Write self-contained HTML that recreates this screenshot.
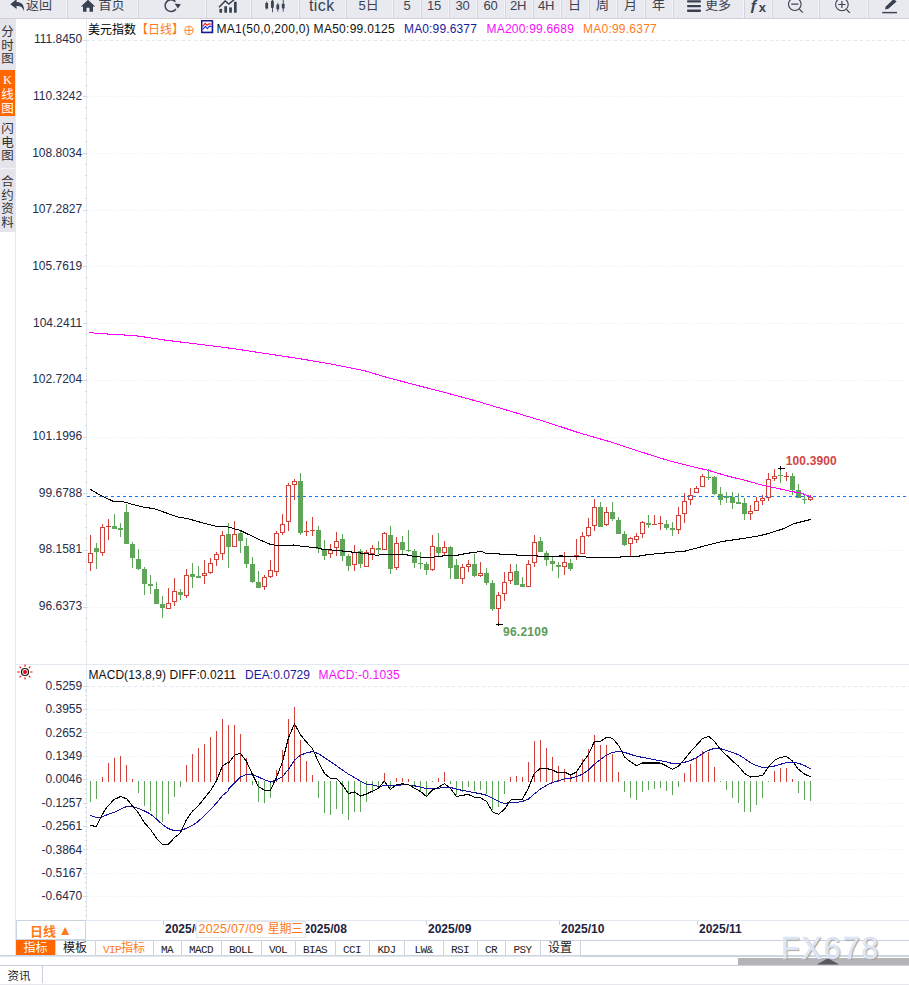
<!DOCTYPE html>
<html lang="zh"><head><meta charset="utf-8"><title>美元指数</title><style>
*{margin:0;padding:0;box-sizing:border-box}
html,body{width:909px;height:985px;overflow:hidden;background:#fff}
body{position:relative;font-family:"Liberation Sans","Noto Sans CJK SC",sans-serif;font-size:12px;color:#222}
.abs{position:absolute}
#tb{position:absolute;left:0;top:0;width:909px;height:19px;background:#e9e9f0;border-bottom:1px solid #d0d0d9;overflow:hidden}
#tb .sep{position:absolute;top:0;width:2px;height:19px;border-left:1px solid #f4f4f9;border-right:1px solid #d4d4dc}
#tb .t{position:absolute;top:-5px;height:20px;line-height:20px;font-size:13px;color:#3a4250;white-space:nowrap}
#tb svg{position:absolute;top:0}
#sb{position:absolute;left:0;top:19px;width:15px;height:213px;background:#e4e4ea}
#sb .v{position:absolute;left:0;width:15px;font-size:12px;line-height:14px;text-align:center;color:#333;font-family:"Liberation Sans","Noto Sans CJK SC",sans-serif}
#sb .on{background:#ff6600;color:#fff}
.yl{position:absolute;left:10px;width:72.2px;text-align:right;font-size:12px;line-height:14px;height:14px;color:#262c4a;white-space:nowrap}
.hdr{position:absolute;white-space:nowrap;font-size:12px;line-height:14px;height:14px}
.dl{position:absolute;top:922px;font-weight:bold;font-size:12px;line-height:14px;color:#1d2340;white-space:nowrap}
.tab{position:absolute;top:940px;height:15px;line-height:16.5px;font-size:12px;text-align:center;border-right:1px solid #ccd6e0;white-space:nowrap;color:#222}
.tab.m span{display:inline-block;font-family:"Liberation Mono",monospace;font-size:11px;letter-spacing:-0.6px;transform:scaleY(1.0);position:relative;top:0.5px}
</style></head><body>
<div id="tb">
<div class="sep" style="left:66px"></div>
<div class="sep" style="left:137px"></div>
<div class="sep" style="left:205px"></div>
<div class="sep" style="left:250px"></div>
<div class="sep" style="left:298px"></div>
<div class="sep" style="left:345px"></div>
<div class="sep" style="left:392px"></div>
<div class="sep" style="left:420px"></div>
<div class="sep" style="left:448px"></div>
<div class="sep" style="left:476px"></div>
<div class="sep" style="left:504px"></div>
<div class="sep" style="left:532px"></div>
<div class="sep" style="left:560px"></div>
<div class="sep" style="left:588px"></div>
<div class="sep" style="left:616px"></div>
<div class="sep" style="left:644px"></div>
<div class="sep" style="left:672px"></div>
<div class="sep" style="left:743px"></div>
<div class="sep" style="left:771px"></div>
<div class="sep" style="left:818px"></div>
<div class="sep" style="left:867px"></div>
<svg style="left:9px;top:-1px" width="17" height="14" viewBox="0 0 17 14"><path d="M1.3 5.3 L7.6 0 V3 C12 3 15.5 5.5 15 12 C13.8 8.3 11.5 7 7.6 7 V10 Z" fill="#3a4250"/></svg>
<div class="t" style="left:26px;">返回</div>
<svg style="left:80px;top:-1px" width="16" height="16" viewBox="0 0 16 16"><path d="M8 0.8 L0.8 7.4 H3 V12.8 H6.5 V8.8 H9.5 V12.8 H13 V7.4 H15.2 Z" fill="#3a4250"/></svg>
<div class="t" style="left:98.5px;">首页</div>
<svg style="left:160px" width="24" height="16" viewBox="160 0 24 16"><path d="M175.4 1.7 A5.9 5.9 0 1 0 175.9 9.0" fill="none" stroke="#3a4250" stroke-width="1.5"/><path d="M174.6 3.4 L180.9 4.2 L177.9 8.4 Z" fill="#3a4250"/></svg>
<svg style="left:216px" width="24" height="16" viewBox="216 0 24 16"><path d="M219 7.2 L225.2 0.9 L228.8 4.1 L235.5 -1.5" fill="none" stroke="#3a4250" stroke-width="1.5"/><g fill="#3a4250"><rect x="219.4" y="8.9" width="2.7" height="3.8"/><rect x="224.3" y="6.2" width="2.7" height="6.5"/><rect x="229.2" y="7.4" width="2.7" height="5.3"/><rect x="234" y="1.8" width="2.7" height="10.9"/></g></svg>
<svg style="left:262px" width="26" height="16" viewBox="262 0 26 16"><g fill="#3a4250"><rect x="265.3" y="3" width="2.8" height="5.5"/><rect x="266.3" y="1.5" width="0.9" height="8"/><rect x="271" y="0.8" width="2.8" height="7"/><rect x="272" y="0" width="0.9" height="12.3"/><rect x="276.4" y="4.6" width="2.8" height="4.6"/><rect x="277.4" y="3" width="0.9" height="8.6"/><rect x="281.8" y="3.8" width="2.8" height="4.6"/><rect x="282.8" y="0" width="0.9" height="11.6"/></g></svg>
<div class="t" style="left:309px;font-size:16px;top:-4.5px;letter-spacing:0.4px">tick</div>
<div class="t" style="left:358.5px;"><span style="position:relative;top:1px">5</span>日</div>
<div class="t" style="left:403.5px;top:-4px;letter-spacing:-0.3px">5</div>
<div class="t" style="left:427px;top:-4px;letter-spacing:-0.3px">15</div>
<div class="t" style="left:455.5px;top:-4px;letter-spacing:-0.3px">30</div>
<div class="t" style="left:483.5px;top:-4px;letter-spacing:-0.3px">60</div>
<div class="t" style="left:510px;top:-4px;letter-spacing:-0.3px">2H</div>
<div class="t" style="left:538px;top:-4px;letter-spacing:-0.3px">4H</div>
<div class="t" style="left:568px;">日</div>
<div class="t" style="left:596px;">周</div>
<div class="t" style="left:624px;">月</div>
<div class="t" style="left:652px;">年</div>
<svg style="left:686px" width="16" height="16" viewBox="0 0 16 16"><g fill="#3a4250"><rect x="1" y="0.3" width="14" height="2.3" rx="1"/><rect x="1" y="4.9" width="14" height="2.3" rx="1"/><rect x="1" y="9.6" width="14" height="2.3" rx="1"/></g></svg>
<div class="t" style="left:705px;">更多</div>
<div class="t" style="left:749.5px;top:-5px"><b style="font-size:15.5px;position:relative;top:0px">ƒ</b><b style="font-size:13px;position:relative;top:2px;left:0.5px">x</b></div>
<svg style="left:784px" width="24" height="18" viewBox="784 0 24 18"><circle cx="794.8" cy="4.2" r="6.3" fill="none" stroke="#3a4250" stroke-width="1.1"/><path d="M791.2 4.2 H798.4 M799.4 9.2 L802.8 12.6" stroke="#3a4250" stroke-width="1.2" fill="none"/></svg>
<svg style="left:831px" width="24" height="18" viewBox="831 0 24 18"><circle cx="841.9" cy="4.5" r="6.3" fill="none" stroke="#3a4250" stroke-width="1.1"/><path d="M838.3 4.5 H845.5 M841.9 0.9 V8.1 M846.5 9.5 L849.9 12.9" stroke="#3a4250" stroke-width="1.2" fill="none"/></svg>
<svg style="left:878px" width="24" height="18" viewBox="878 0 24 18"><path d="M885 9.6 L885.8 6.6 L893.6 -1 L896.6 1.6 L888.4 8.8 Z" fill="#3a4250"/><rect x="882.2" y="11.9" width="14.8" height="1.4" fill="#3a4250"/></svg>
</div>
<div id="sb">
<div class="v" style="top:7px;height:45px;line-height:13.7px;font-size:12.5px">分<br>时<br>图</div>
<div class="v on" style="top:51px;height:46px;padding-top:5.5px;line-height:13.6px;font-size:12.5px;font-family:'Liberation Serif','Noto Sans CJK SC',serif"><span style="position:relative;top:-1.5px">K</span><br>线<br>图</div>
<div class="v" style="top:104px;height:45px;line-height:13.7px;font-size:12.5px">闪<br>电<br>图</div>
<div class="abs" style="left:0;top:149px;width:15px;height:1px;background:#f4f4f8"></div>
<div class="v" style="top:157px;height:56px;line-height:13.7px;font-size:12.5px">合<br>约<br>资<br>料</div>
</div>
<div class="yl" style="top:32px">111.8450</div>
<div class="yl" style="top:89px">110.3242</div>
<div class="yl" style="top:146px">108.8034</div>
<div class="yl" style="top:202px">107.2827</div>
<div class="yl" style="top:259px">105.7619</div>
<div class="yl" style="top:316px">104.2411</div>
<div class="yl" style="top:372px">102.7204</div>
<div class="yl" style="top:429px">101.1996</div>
<div class="yl" style="top:486px">99.6788</div>
<div class="yl" style="top:542px">98.1581</div>
<div class="yl" style="top:599px">96.6373</div>
<div class="yl" style="top:679px">0.5259</div>
<div class="yl" style="top:702px">0.3955</div>
<div class="yl" style="top:726px">0.2652</div>
<div class="yl" style="top:749px">0.1349</div>
<div class="yl" style="top:772px">0.0046</div>
<div class="yl" style="top:796px">-0.1257</div>
<div class="yl" style="top:819px">-0.2561</div>
<div class="yl" style="top:843px">-0.3864</div>
<div class="yl" style="top:866px">-0.5167</div>
<div class="yl" style="top:889px">-0.6470</div>
<svg class="abs" style="left:0;top:0" width="909" height="985" viewBox="0 0 909 985">
<g shape-rendering="crispEdges" stroke="#e3e9f0" stroke-width="1" fill="none">
<path d="M15.5 19 V956"/>
<path d="M86.5 19 V920"/>
<path d="M16 664.5 H909"/>
<path d="M16 920.5 H909"/>
</g>
<g shape-rendering="crispEdges" stroke="#e4ebf0" stroke-width="1" stroke-dasharray="1 2" fill="none">
<path d="M87 96.5 H909"/>
<path d="M87 153.5 H909"/>
<path d="M87 210.5 H909"/>
<path d="M87 266.5 H909"/>
<path d="M87 323.5 H909"/>
<path d="M87 380.5 H909"/>
<path d="M87 437.5 H909"/>
<path d="M87 493.5 H909"/>
<path d="M87 550.5 H909"/>
<path d="M87 607.5 H909"/>
<path d="M87 709.5 H909"/>
<path d="M87 732.5 H909"/>
<path d="M87 756.5 H909"/>
<path d="M87 779.5 H909"/>
<path d="M87 803.5 H909"/>
<path d="M87 826.5 H909"/>
<path d="M87 849.5 H909"/>
<path d="M87 873.5 H909"/>
<path d="M87 896.5 H909"/>
</g>
<g shape-rendering="crispEdges" stroke="#dfe7ee" stroke-width="1" stroke-dasharray="3 3" fill="none">
<path d="M86 40.5 H909"/>
<path d="M86 686.5 H909"/>
</g>
<g shape-rendering="crispEdges" stroke="#d3dbe5" stroke-width="1" fill="none">
<path d="M83 40.5 H87"/>
<path d="M85 51.5 H87"/>
<path d="M85 62.5 H87"/>
<path d="M85 74.5 H87"/>
<path d="M85 85.5 H87"/>
<path d="M83 96.5 H87"/>
<path d="M85 107.5 H87"/>
<path d="M85 118.5 H87"/>
<path d="M85 130.5 H87"/>
<path d="M85 141.5 H87"/>
<path d="M83 153.5 H87"/>
<path d="M85 164.5 H87"/>
<path d="M85 175.5 H87"/>
<path d="M85 187.5 H87"/>
<path d="M85 198.5 H87"/>
<path d="M83 210.5 H87"/>
<path d="M85 221.5 H87"/>
<path d="M85 232.5 H87"/>
<path d="M85 244.5 H87"/>
<path d="M85 255.5 H87"/>
<path d="M83 266.5 H87"/>
<path d="M85 277.5 H87"/>
<path d="M85 288.5 H87"/>
<path d="M85 300.5 H87"/>
<path d="M85 311.5 H87"/>
<path d="M83 323.5 H87"/>
<path d="M85 334.5 H87"/>
<path d="M85 345.5 H87"/>
<path d="M85 357.5 H87"/>
<path d="M85 368.5 H87"/>
<path d="M83 380.5 H87"/>
<path d="M85 391.5 H87"/>
<path d="M85 402.5 H87"/>
<path d="M85 414.5 H87"/>
<path d="M85 425.5 H87"/>
<path d="M83 437.5 H87"/>
<path d="M85 448.5 H87"/>
<path d="M85 459.5 H87"/>
<path d="M85 471.5 H87"/>
<path d="M85 482.5 H87"/>
<path d="M83 493.5 H87"/>
<path d="M85 504.5 H87"/>
<path d="M85 515.5 H87"/>
<path d="M85 527.5 H87"/>
<path d="M85 538.5 H87"/>
<path d="M83 550.5 H87"/>
<path d="M85 561.5 H87"/>
<path d="M85 572.5 H87"/>
<path d="M85 584.5 H87"/>
<path d="M85 595.5 H87"/>
<path d="M83 607.5 H87"/>
<path d="M85 618.5 H87"/>
<path d="M85 629.5 H87"/>
<path d="M85 641.5 H87"/>
<path d="M83 686.5 H87"/>
<path d="M85 690.5 H87"/>
<path d="M85 695.5 H87"/>
<path d="M85 700.5 H87"/>
<path d="M85 704.5 H87"/>
<path d="M83 709.5 H87"/>
<path d="M85 714.5 H87"/>
<path d="M85 718.5 H87"/>
<path d="M85 723.5 H87"/>
<path d="M85 728.5 H87"/>
<path d="M83 732.5 H87"/>
<path d="M85 737.5 H87"/>
<path d="M85 742.5 H87"/>
<path d="M85 747.5 H87"/>
<path d="M85 751.5 H87"/>
<path d="M83 756.5 H87"/>
<path d="M85 761.5 H87"/>
<path d="M85 765.5 H87"/>
<path d="M85 770.5 H87"/>
<path d="M85 775.5 H87"/>
<path d="M83 779.5 H87"/>
<path d="M85 784.5 H87"/>
<path d="M85 789.5 H87"/>
<path d="M85 793.5 H87"/>
<path d="M85 798.5 H87"/>
<path d="M83 803.5 H87"/>
<path d="M85 807.5 H87"/>
<path d="M85 812.5 H87"/>
<path d="M85 817.5 H87"/>
<path d="M85 821.5 H87"/>
<path d="M83 826.5 H87"/>
<path d="M85 831.5 H87"/>
<path d="M85 835.5 H87"/>
<path d="M85 840.5 H87"/>
<path d="M85 845.5 H87"/>
<path d="M83 849.5 H87"/>
<path d="M85 854.5 H87"/>
<path d="M85 859.5 H87"/>
<path d="M85 863.5 H87"/>
<path d="M85 868.5 H87"/>
<path d="M83 873.5 H87"/>
<path d="M85 877.5 H87"/>
<path d="M85 882.5 H87"/>
<path d="M85 887.5 H87"/>
<path d="M85 892.5 H87"/>
<path d="M83 896.5 H87"/>
<path d="M85 901.5 H87"/>
<path d="M85 906.5 H87"/>
<path d="M85 910.5 H87"/>
<path d="M85 915.5 H87"/>
</g>
<g shape-rendering="crispEdges">
<rect x="90" y="535" width="1" height="36" fill="#d2403a"/>
<rect x="88.5" y="553.5" width="4" height="9" fill="#fff" stroke="#d2403a" stroke-width="1"/>
<rect x="96" y="543" width="1" height="26" fill="#5fa65a"/>
<rect x="94" y="548" width="5" height="4" fill="#5fa65a"/>
<rect x="102" y="524" width="1" height="32" fill="#d2403a"/>
<rect x="100.5" y="527.5" width="4" height="25" fill="#fff" stroke="#d2403a" stroke-width="1"/>
<rect x="108" y="519" width="1" height="21" fill="#d2403a"/>
<rect x="106" y="526" width="5" height="1" fill="#d2403a"/>
<rect x="114" y="514" width="1" height="15" fill="#5fa65a"/>
<rect x="112" y="526" width="5" height="3" fill="#5fa65a"/>
<rect x="120" y="523" width="1" height="14" fill="#5fa65a"/>
<rect x="118" y="528" width="5" height="2" fill="#5fa65a"/>
<rect x="126" y="504" width="1" height="40" fill="#5fa65a"/>
<rect x="124" y="512" width="5" height="32" fill="#5fa65a"/>
<rect x="132" y="542" width="1" height="26" fill="#5fa65a"/>
<rect x="130" y="544" width="5" height="14" fill="#5fa65a"/>
<rect x="138" y="549" width="1" height="21" fill="#5fa65a"/>
<rect x="136" y="559" width="5" height="10" fill="#5fa65a"/>
<rect x="144" y="567" width="1" height="28" fill="#5fa65a"/>
<rect x="142" y="569" width="5" height="15" fill="#5fa65a"/>
<rect x="150" y="575" width="1" height="19" fill="#5fa65a"/>
<rect x="148" y="584" width="5" height="2" fill="#5fa65a"/>
<rect x="156" y="582" width="1" height="22" fill="#5fa65a"/>
<rect x="154" y="589" width="5" height="15" fill="#5fa65a"/>
<rect x="162" y="596" width="1" height="22" fill="#5fa65a"/>
<rect x="160" y="604" width="5" height="4" fill="#5fa65a"/>
<rect x="168" y="588" width="1" height="21" fill="#d2403a"/>
<rect x="166.5" y="603.5" width="4" height="5" fill="#fff" stroke="#d2403a" stroke-width="1"/>
<rect x="174" y="578" width="1" height="28" fill="#d2403a"/>
<rect x="172.5" y="591.5" width="4" height="10" fill="#fff" stroke="#d2403a" stroke-width="1"/>
<rect x="180" y="589" width="1" height="11" fill="#5fa65a"/>
<rect x="178" y="592" width="5" height="3" fill="#5fa65a"/>
<rect x="186" y="569" width="1" height="29" fill="#d2403a"/>
<rect x="184.5" y="575.5" width="4" height="20" fill="#fff" stroke="#d2403a" stroke-width="1"/>
<rect x="192" y="563" width="1" height="25" fill="#5fa65a"/>
<rect x="190" y="574" width="5" height="3" fill="#5fa65a"/>
<rect x="198" y="566" width="1" height="12" fill="#5fa65a"/>
<rect x="196" y="576" width="5" height="2" fill="#5fa65a"/>
<rect x="204" y="560" width="1" height="24" fill="#d2403a"/>
<rect x="202.5" y="573.5" width="4" height="2" fill="#fff" stroke="#d2403a" stroke-width="1"/>
<rect x="210" y="558" width="1" height="16" fill="#d2403a"/>
<rect x="208.5" y="563.5" width="4" height="9" fill="#fff" stroke="#d2403a" stroke-width="1"/>
<rect x="216" y="552" width="1" height="14" fill="#d2403a"/>
<rect x="214.5" y="554.5" width="4" height="5" fill="#fff" stroke="#d2403a" stroke-width="1"/>
<rect x="222" y="531" width="1" height="29" fill="#d2403a"/>
<rect x="220.5" y="535.5" width="4" height="18" fill="#fff" stroke="#d2403a" stroke-width="1"/>
<rect x="228" y="523" width="1" height="45" fill="#5fa65a"/>
<rect x="226" y="534" width="5" height="13" fill="#5fa65a"/>
<rect x="234" y="521" width="1" height="26" fill="#d2403a"/>
<rect x="232.5" y="534.5" width="4" height="12" fill="#fff" stroke="#d2403a" stroke-width="1"/>
<rect x="240" y="530" width="1" height="23" fill="#5fa65a"/>
<rect x="238" y="533" width="5" height="8" fill="#5fa65a"/>
<rect x="246" y="538" width="1" height="30" fill="#5fa65a"/>
<rect x="244" y="546" width="5" height="18" fill="#5fa65a"/>
<rect x="252" y="557" width="1" height="26" fill="#5fa65a"/>
<rect x="250" y="564" width="5" height="18" fill="#5fa65a"/>
<rect x="258" y="571" width="1" height="17" fill="#5fa65a"/>
<rect x="256" y="582" width="5" height="6" fill="#5fa65a"/>
<rect x="264" y="575" width="1" height="15" fill="#d2403a"/>
<rect x="262.5" y="577.5" width="4" height="9" fill="#fff" stroke="#d2403a" stroke-width="1"/>
<rect x="270" y="560" width="1" height="18" fill="#d2403a"/>
<rect x="268.5" y="570.5" width="4" height="6" fill="#fff" stroke="#d2403a" stroke-width="1"/>
<rect x="276" y="531" width="1" height="45" fill="#d2403a"/>
<rect x="274.5" y="533.5" width="4" height="38" fill="#fff" stroke="#d2403a" stroke-width="1"/>
<rect x="282" y="514" width="1" height="21" fill="#d2403a"/>
<rect x="280.5" y="524.5" width="4" height="8" fill="#fff" stroke="#d2403a" stroke-width="1"/>
<rect x="288" y="483" width="1" height="48" fill="#d2403a"/>
<rect x="286.5" y="485.5" width="4" height="36" fill="#fff" stroke="#d2403a" stroke-width="1"/>
<rect x="294" y="479" width="1" height="21" fill="#d2403a"/>
<rect x="292.5" y="481.5" width="4" height="3" fill="#fff" stroke="#d2403a" stroke-width="1"/>
<rect x="300" y="473" width="1" height="62" fill="#5fa65a"/>
<rect x="298" y="481" width="5" height="52" fill="#5fa65a"/>
<rect x="306" y="521" width="1" height="15" fill="#d2403a"/>
<rect x="304" y="531" width="5" height="1" fill="#d2403a"/>
<rect x="312" y="517" width="1" height="19" fill="#d2403a"/>
<rect x="310" y="530" width="5" height="1" fill="#d2403a"/>
<rect x="318" y="526" width="1" height="27" fill="#5fa65a"/>
<rect x="316" y="530" width="5" height="19" fill="#5fa65a"/>
<rect x="324" y="540" width="1" height="20" fill="#5fa65a"/>
<rect x="322" y="549" width="5" height="7" fill="#5fa65a"/>
<rect x="330" y="544" width="1" height="14" fill="#d2403a"/>
<rect x="328.5" y="550.5" width="4" height="3" fill="#fff" stroke="#d2403a" stroke-width="1"/>
<rect x="336" y="532" width="1" height="24" fill="#d2403a"/>
<rect x="334.5" y="541.5" width="4" height="6" fill="#fff" stroke="#d2403a" stroke-width="1"/>
<rect x="342" y="534" width="1" height="27" fill="#5fa65a"/>
<rect x="340" y="539" width="5" height="17" fill="#5fa65a"/>
<rect x="348" y="554" width="1" height="17" fill="#5fa65a"/>
<rect x="346" y="556" width="5" height="10" fill="#5fa65a"/>
<rect x="354" y="545" width="1" height="26" fill="#d2403a"/>
<rect x="352.5" y="552.5" width="4" height="12" fill="#fff" stroke="#d2403a" stroke-width="1"/>
<rect x="360" y="549" width="1" height="19" fill="#5fa65a"/>
<rect x="358" y="551" width="5" height="13" fill="#5fa65a"/>
<rect x="366" y="550" width="1" height="17" fill="#d2403a"/>
<rect x="364.5" y="552.5" width="4" height="14" fill="#fff" stroke="#d2403a" stroke-width="1"/>
<rect x="372" y="545" width="1" height="15" fill="#d2403a"/>
<rect x="370.5" y="548.5" width="4" height="5" fill="#fff" stroke="#d2403a" stroke-width="1"/>
<rect x="378" y="541" width="1" height="13" fill="#5fa65a"/>
<rect x="376" y="548" width="5" height="2" fill="#5fa65a"/>
<rect x="384" y="532" width="1" height="18" fill="#d2403a"/>
<rect x="382.5" y="533.5" width="4" height="16" fill="#fff" stroke="#d2403a" stroke-width="1"/>
<rect x="390" y="526" width="1" height="48" fill="#5fa65a"/>
<rect x="388" y="535" width="5" height="34" fill="#5fa65a"/>
<rect x="396" y="537" width="1" height="33" fill="#d2403a"/>
<rect x="394.5" y="543.5" width="4" height="24" fill="#fff" stroke="#d2403a" stroke-width="1"/>
<rect x="402" y="536" width="1" height="18" fill="#5fa65a"/>
<rect x="400" y="542" width="5" height="8" fill="#5fa65a"/>
<rect x="408" y="530" width="1" height="22" fill="#5fa65a"/>
<rect x="406" y="550" width="5" height="1" fill="#5fa65a"/>
<rect x="414" y="549" width="1" height="19" fill="#5fa65a"/>
<rect x="412" y="551" width="5" height="12" fill="#5fa65a"/>
<rect x="420" y="552" width="1" height="17" fill="#5fa65a"/>
<rect x="418" y="563" width="5" height="1" fill="#5fa65a"/>
<rect x="426" y="562" width="1" height="13" fill="#5fa65a"/>
<rect x="424" y="564" width="5" height="6" fill="#5fa65a"/>
<rect x="432" y="535" width="1" height="36" fill="#d2403a"/>
<rect x="430.5" y="546.5" width="4" height="23" fill="#fff" stroke="#d2403a" stroke-width="1"/>
<rect x="438" y="533" width="1" height="23" fill="#5fa65a"/>
<rect x="436" y="547" width="5" height="6" fill="#5fa65a"/>
<rect x="444" y="541" width="1" height="14" fill="#d2403a"/>
<rect x="442.5" y="547.5" width="4" height="5" fill="#fff" stroke="#d2403a" stroke-width="1"/>
<rect x="450" y="546" width="1" height="33" fill="#5fa65a"/>
<rect x="448" y="547" width="5" height="21" fill="#5fa65a"/>
<rect x="456" y="559" width="1" height="20" fill="#5fa65a"/>
<rect x="454" y="565" width="5" height="14" fill="#5fa65a"/>
<rect x="462" y="564" width="1" height="20" fill="#d2403a"/>
<rect x="460.5" y="567.5" width="4" height="11" fill="#fff" stroke="#d2403a" stroke-width="1"/>
<rect x="468" y="560" width="1" height="12" fill="#d2403a"/>
<rect x="466.5" y="564.5" width="4" height="2" fill="#fff" stroke="#d2403a" stroke-width="1"/>
<rect x="474" y="554" width="1" height="23" fill="#5fa65a"/>
<rect x="472" y="564" width="5" height="12" fill="#5fa65a"/>
<rect x="480" y="562" width="1" height="15" fill="#d2403a"/>
<rect x="478.5" y="573.5" width="4" height="2" fill="#fff" stroke="#d2403a" stroke-width="1"/>
<rect x="486" y="568" width="1" height="17" fill="#5fa65a"/>
<rect x="484" y="573" width="5" height="10" fill="#5fa65a"/>
<rect x="492" y="580" width="1" height="31" fill="#5fa65a"/>
<rect x="490" y="583" width="5" height="26" fill="#5fa65a"/>
<rect x="498" y="592" width="1" height="32" fill="#d2403a"/>
<rect x="496.5" y="595.5" width="4" height="13" fill="#fff" stroke="#d2403a" stroke-width="1"/>
<rect x="504" y="572" width="1" height="29" fill="#d2403a"/>
<rect x="502.5" y="582.5" width="4" height="11" fill="#fff" stroke="#d2403a" stroke-width="1"/>
<rect x="510" y="564" width="1" height="20" fill="#d2403a"/>
<rect x="508.5" y="572.5" width="4" height="8" fill="#fff" stroke="#d2403a" stroke-width="1"/>
<rect x="516" y="564" width="1" height="21" fill="#5fa65a"/>
<rect x="514" y="571" width="5" height="14" fill="#5fa65a"/>
<rect x="522" y="577" width="1" height="10" fill="#5fa65a"/>
<rect x="520" y="584" width="5" height="3" fill="#5fa65a"/>
<rect x="528" y="560" width="1" height="27" fill="#d2403a"/>
<rect x="526.5" y="564.5" width="4" height="22" fill="#fff" stroke="#d2403a" stroke-width="1"/>
<rect x="534" y="535" width="1" height="32" fill="#d2403a"/>
<rect x="532.5" y="542.5" width="4" height="20" fill="#fff" stroke="#d2403a" stroke-width="1"/>
<rect x="540" y="537" width="1" height="15" fill="#5fa65a"/>
<rect x="538" y="541" width="5" height="11" fill="#5fa65a"/>
<rect x="546" y="551" width="1" height="15" fill="#5fa65a"/>
<rect x="544" y="553" width="5" height="7" fill="#5fa65a"/>
<rect x="552" y="557" width="1" height="14" fill="#5fa65a"/>
<rect x="550" y="561" width="5" height="3" fill="#5fa65a"/>
<rect x="558" y="562" width="1" height="16" fill="#5fa65a"/>
<rect x="556" y="565" width="5" height="2" fill="#5fa65a"/>
<rect x="564" y="552" width="1" height="23" fill="#d2403a"/>
<rect x="562.5" y="562.5" width="4" height="4" fill="#fff" stroke="#d2403a" stroke-width="1"/>
<rect x="570" y="559" width="1" height="12" fill="#5fa65a"/>
<rect x="568" y="563" width="5" height="6" fill="#5fa65a"/>
<rect x="576" y="539" width="1" height="21" fill="#d2403a"/>
<rect x="574" y="555" width="5" height="1" fill="#d2403a"/>
<rect x="582" y="532" width="1" height="22" fill="#d2403a"/>
<rect x="580.5" y="536.5" width="4" height="17" fill="#fff" stroke="#d2403a" stroke-width="1"/>
<rect x="588" y="518" width="1" height="19" fill="#d2403a"/>
<rect x="586.5" y="527.5" width="4" height="8" fill="#fff" stroke="#d2403a" stroke-width="1"/>
<rect x="594" y="499" width="1" height="32" fill="#d2403a"/>
<rect x="592.5" y="507.5" width="4" height="18" fill="#fff" stroke="#d2403a" stroke-width="1"/>
<rect x="600" y="502" width="1" height="25" fill="#5fa65a"/>
<rect x="598" y="507" width="5" height="20" fill="#5fa65a"/>
<rect x="606" y="507" width="1" height="19" fill="#d2403a"/>
<rect x="604.5" y="512.5" width="4" height="12" fill="#fff" stroke="#d2403a" stroke-width="1"/>
<rect x="612" y="502" width="1" height="19" fill="#5fa65a"/>
<rect x="610" y="512" width="5" height="7" fill="#5fa65a"/>
<rect x="618" y="517" width="1" height="17" fill="#5fa65a"/>
<rect x="616" y="520" width="5" height="14" fill="#5fa65a"/>
<rect x="624" y="531" width="1" height="15" fill="#5fa65a"/>
<rect x="622" y="534" width="5" height="11" fill="#5fa65a"/>
<rect x="630" y="537" width="1" height="19" fill="#d2403a"/>
<rect x="628.5" y="538.5" width="4" height="5" fill="#fff" stroke="#d2403a" stroke-width="1"/>
<rect x="636" y="533" width="1" height="10" fill="#d2403a"/>
<rect x="634.5" y="536.5" width="4" height="3" fill="#fff" stroke="#d2403a" stroke-width="1"/>
<rect x="642" y="521" width="1" height="17" fill="#d2403a"/>
<rect x="640.5" y="522.5" width="4" height="11" fill="#fff" stroke="#d2403a" stroke-width="1"/>
<rect x="648" y="515" width="1" height="13" fill="#5fa65a"/>
<rect x="646" y="523" width="5" height="2" fill="#5fa65a"/>
<rect x="654" y="515" width="1" height="10" fill="#d2403a"/>
<rect x="652" y="524" width="5" height="1" fill="#d2403a"/>
<rect x="660" y="516" width="1" height="14" fill="#d2403a"/>
<rect x="658" y="523" width="5" height="1" fill="#d2403a"/>
<rect x="666" y="520" width="1" height="10" fill="#5fa65a"/>
<rect x="664" y="524" width="5" height="4" fill="#5fa65a"/>
<rect x="672" y="522" width="1" height="14" fill="#5fa65a"/>
<rect x="670" y="528" width="5" height="2" fill="#5fa65a"/>
<rect x="678" y="507" width="1" height="27" fill="#d2403a"/>
<rect x="676.5" y="515.5" width="4" height="14" fill="#fff" stroke="#d2403a" stroke-width="1"/>
<rect x="684" y="493" width="1" height="30" fill="#d2403a"/>
<rect x="682.5" y="501.5" width="4" height="12" fill="#fff" stroke="#d2403a" stroke-width="1"/>
<rect x="690" y="488" width="1" height="17" fill="#d2403a"/>
<rect x="688.5" y="495.5" width="4" height="4" fill="#fff" stroke="#d2403a" stroke-width="1"/>
<rect x="696" y="486" width="1" height="7" fill="#d2403a"/>
<rect x="694.5" y="488.5" width="4" height="4" fill="#fff" stroke="#d2403a" stroke-width="1"/>
<rect x="702" y="474" width="1" height="13" fill="#d2403a"/>
<rect x="700.5" y="476.5" width="4" height="10" fill="#fff" stroke="#d2403a" stroke-width="1"/>
<rect x="708" y="469" width="1" height="11" fill="#5fa65a"/>
<rect x="706" y="477" width="5" height="1" fill="#5fa65a"/>
<rect x="714" y="476" width="1" height="19" fill="#5fa65a"/>
<rect x="712" y="477" width="5" height="17" fill="#5fa65a"/>
<rect x="720" y="487" width="1" height="18" fill="#5fa65a"/>
<rect x="718" y="494" width="5" height="6" fill="#5fa65a"/>
<rect x="726" y="492" width="1" height="11" fill="#5fa65a"/>
<rect x="724" y="496" width="5" height="2" fill="#5fa65a"/>
<rect x="732" y="492" width="1" height="17" fill="#5fa65a"/>
<rect x="730" y="497" width="5" height="6" fill="#5fa65a"/>
<rect x="738" y="493" width="1" height="11" fill="#5fa65a"/>
<rect x="736" y="502" width="5" height="2" fill="#5fa65a"/>
<rect x="744" y="498" width="1" height="22" fill="#5fa65a"/>
<rect x="742" y="503" width="5" height="11" fill="#5fa65a"/>
<rect x="750" y="505" width="1" height="15" fill="#d2403a"/>
<rect x="748.5" y="511.5" width="4" height="2" fill="#fff" stroke="#d2403a" stroke-width="1"/>
<rect x="756" y="497" width="1" height="14" fill="#d2403a"/>
<rect x="754.5" y="501.5" width="4" height="9" fill="#fff" stroke="#d2403a" stroke-width="1"/>
<rect x="762" y="495" width="1" height="10" fill="#d2403a"/>
<rect x="760.5" y="498.5" width="4" height="2" fill="#fff" stroke="#d2403a" stroke-width="1"/>
<rect x="768" y="473" width="1" height="28" fill="#d2403a"/>
<rect x="766.5" y="479.5" width="4" height="18" fill="#fff" stroke="#d2403a" stroke-width="1"/>
<rect x="774" y="469" width="1" height="12" fill="#d2403a"/>
<rect x="772.5" y="476.5" width="4" height="2" fill="#fff" stroke="#d2403a" stroke-width="1"/>
<rect x="780" y="468" width="1" height="15" fill="#5fa65a"/>
<rect x="778" y="475" width="5" height="1" fill="#5fa65a"/>
<rect x="786" y="472" width="1" height="9" fill="#d2403a"/>
<rect x="784" y="476" width="5" height="1" fill="#d2403a"/>
<rect x="792" y="473" width="1" height="22" fill="#5fa65a"/>
<rect x="790" y="476" width="5" height="14" fill="#5fa65a"/>
<rect x="798" y="484" width="1" height="14" fill="#5fa65a"/>
<rect x="796" y="490" width="5" height="8" fill="#5fa65a"/>
<rect x="804" y="494" width="1" height="10" fill="#5fa65a"/>
<rect x="802" y="499" width="5" height="1" fill="#5fa65a"/>
<rect x="810" y="495" width="1" height="6" fill="#d2403a"/>
<rect x="808.5" y="497.5" width="4" height="2" fill="#fff" stroke="#d2403a" stroke-width="1"/>
</g>
<path d="M89.9 332.7 L117.0 334.7 L133.5 335.4 L166.5 340.3 L199.5 344.3 L232.5 348.5 L265.5 353.5 L298.5 358.5 L331.5 364.1 L364.5 370.7 L384.0 376.6 L413.0 384.3 L446.0 392.8 L479.0 401.8 L512.0 411.7 L545.0 421.6 L578.0 432.5 L611.0 442.0 L644.0 452.9 L670.2 461.1 L686.5 465.2 L707.6 470.2 L727.1 475.9 L744.9 480.3 L761.2 484.8 L777.7 488.4 L792.4 491.7 L800.5 492.8 L810.2 496.5" fill="none" stroke="#ff00ff" stroke-width="1.05" shape-rendering="crispEdges" stroke-linejoin="round" stroke-linecap="square"/>
<path d="M90.2 489.2 L100.2 495.2 L113.2 501.3 L123.0 501.7 L132.7 504.4 L144.1 507.3 L153.8 508.6 L178.2 517.1 L187.9 518.7 L204.0 523.3 L215.9 526.3 L225.6 526.3 L240.2 530.4 L259.7 539.8 L271.1 544.7 L279.2 545.5 L293.8 545.0 L301.9 546.3 L318.0 547.9 L321.7 549.1 L333.1 550.1 L344.5 551.2 L354.2 552.3 L365.6 553.6 L377.0 555.3 L383.4 554.4 L396.4 554.4 L404.6 554.4 L412.7 556.1 L425.7 557.7 L432.0 557.7 L435.7 556.3 L447.1 555.8 L458.5 555.0 L466.6 553.4 L478.0 551.9 L482.8 551.9 L486.1 553.4 L495.8 553.9 L513.7 554.4 L520.2 555.8 L531.5 555.8 L546.0 556.3 L561.1 556.0 L583.8 556.4 L587.1 557.2 L614.7 557.2 L637.4 556.4 L647.2 554.7 L660.0 553.4 L675.1 552.0 L684.9 551.2 L702.7 546.4 L722.2 541.5 L741.7 538.7 L757.9 536.1 L767.7 533.7 L774.0 531.7 L784.2 528.5 L794.0 523.6 L810.2 519.6" fill="none" stroke="#000" stroke-width="1.05" shape-rendering="crispEdges" stroke-linejoin="round" stroke-linecap="square"/>
<path d="M87 496.5 H909" stroke="#0a7cf8" stroke-width="1" stroke-dasharray="3 3" shape-rendering="crispEdges" fill="none"/>
<g shape-rendering="crispEdges">
<rect x="90" y="781" width="1" height="21" fill="#5fa65a"/>
<rect x="96" y="781" width="1" height="18" fill="#5fa65a"/>
<rect x="102" y="777" width="1" height="5" fill="#d2403a"/>
<rect x="108" y="763" width="1" height="19" fill="#d2403a"/>
<rect x="114" y="758" width="1" height="24" fill="#d2403a"/>
<rect x="120" y="756" width="1" height="26" fill="#d2403a"/>
<rect x="126" y="765" width="1" height="17" fill="#d2403a"/>
<rect x="132" y="779" width="1" height="3" fill="#d2403a"/>
<rect x="138" y="781" width="1" height="12" fill="#5fa65a"/>
<rect x="144" y="781" width="1" height="25" fill="#5fa65a"/>
<rect x="150" y="781" width="1" height="30" fill="#5fa65a"/>
<rect x="156" y="781" width="1" height="39" fill="#5fa65a"/>
<rect x="162" y="781" width="1" height="41" fill="#5fa65a"/>
<rect x="168" y="781" width="1" height="33" fill="#5fa65a"/>
<rect x="174" y="781" width="1" height="16" fill="#5fa65a"/>
<rect x="180" y="781" width="1" height="6" fill="#5fa65a"/>
<rect x="186" y="765" width="1" height="17" fill="#d2403a"/>
<rect x="192" y="754" width="1" height="28" fill="#d2403a"/>
<rect x="198" y="748" width="1" height="34" fill="#d2403a"/>
<rect x="204" y="744" width="1" height="38" fill="#d2403a"/>
<rect x="210" y="737" width="1" height="45" fill="#d2403a"/>
<rect x="216" y="731" width="1" height="51" fill="#d2403a"/>
<rect x="222" y="719" width="1" height="63" fill="#d2403a"/>
<rect x="228" y="725" width="1" height="57" fill="#d2403a"/>
<rect x="234" y="725" width="1" height="57" fill="#d2403a"/>
<rect x="240" y="734" width="1" height="48" fill="#d2403a"/>
<rect x="246" y="758" width="1" height="24" fill="#d2403a"/>
<rect x="252" y="781" width="1" height="4" fill="#5fa65a"/>
<rect x="258" y="781" width="1" height="21" fill="#5fa65a"/>
<rect x="264" y="781" width="1" height="22" fill="#5fa65a"/>
<rect x="270" y="781" width="1" height="17" fill="#5fa65a"/>
<rect x="276" y="770" width="1" height="12" fill="#d2403a"/>
<rect x="282" y="750" width="1" height="32" fill="#d2403a"/>
<rect x="288" y="719" width="1" height="63" fill="#d2403a"/>
<rect x="294" y="707" width="1" height="75" fill="#d2403a"/>
<rect x="300" y="740" width="1" height="42" fill="#d2403a"/>
<rect x="306" y="761" width="1" height="21" fill="#d2403a"/>
<rect x="312" y="775" width="1" height="7" fill="#d2403a"/>
<rect x="318" y="781" width="1" height="17" fill="#5fa65a"/>
<rect x="324" y="781" width="1" height="32" fill="#5fa65a"/>
<rect x="330" y="781" width="1" height="34" fill="#5fa65a"/>
<rect x="336" y="781" width="1" height="28" fill="#5fa65a"/>
<rect x="342" y="781" width="1" height="33" fill="#5fa65a"/>
<rect x="348" y="781" width="1" height="39" fill="#5fa65a"/>
<rect x="354" y="781" width="1" height="31" fill="#5fa65a"/>
<rect x="360" y="781" width="1" height="31" fill="#5fa65a"/>
<rect x="366" y="781" width="1" height="21" fill="#5fa65a"/>
<rect x="372" y="781" width="1" height="12" fill="#5fa65a"/>
<rect x="378" y="781" width="1" height="6" fill="#5fa65a"/>
<rect x="384" y="773" width="1" height="9" fill="#d2403a"/>
<rect x="390" y="781" width="1" height="7" fill="#5fa65a"/>
<rect x="396" y="778" width="1" height="4" fill="#d2403a"/>
<rect x="402" y="778" width="1" height="4" fill="#d2403a"/>
<rect x="408" y="779" width="1" height="3" fill="#d2403a"/>
<rect x="414" y="781" width="1" height="6" fill="#5fa65a"/>
<rect x="420" y="781" width="1" height="11" fill="#5fa65a"/>
<rect x="426" y="781" width="1" height="15" fill="#5fa65a"/>
<rect x="432" y="781" width="1" height="1" fill="#5fa65a"/>
<rect x="438" y="778" width="1" height="4" fill="#d2403a"/>
<rect x="444" y="772" width="1" height="10" fill="#d2403a"/>
<rect x="450" y="781" width="1" height="3" fill="#5fa65a"/>
<rect x="456" y="781" width="1" height="14" fill="#5fa65a"/>
<rect x="462" y="781" width="1" height="11" fill="#5fa65a"/>
<rect x="468" y="781" width="1" height="6" fill="#5fa65a"/>
<rect x="474" y="781" width="1" height="10" fill="#5fa65a"/>
<rect x="480" y="781" width="1" height="9" fill="#5fa65a"/>
<rect x="486" y="781" width="1" height="13" fill="#5fa65a"/>
<rect x="492" y="781" width="1" height="29" fill="#5fa65a"/>
<rect x="498" y="781" width="1" height="26" fill="#5fa65a"/>
<rect x="504" y="781" width="1" height="13" fill="#5fa65a"/>
<rect x="510" y="777" width="1" height="5" fill="#d2403a"/>
<rect x="516" y="776" width="1" height="6" fill="#d2403a"/>
<rect x="522" y="777" width="1" height="5" fill="#d2403a"/>
<rect x="528" y="762" width="1" height="20" fill="#d2403a"/>
<rect x="534" y="741" width="1" height="41" fill="#d2403a"/>
<rect x="540" y="740" width="1" height="42" fill="#d2403a"/>
<rect x="546" y="748" width="1" height="34" fill="#d2403a"/>
<rect x="552" y="757" width="1" height="25" fill="#d2403a"/>
<rect x="558" y="766" width="1" height="16" fill="#d2403a"/>
<rect x="564" y="769" width="1" height="13" fill="#d2403a"/>
<rect x="570" y="775" width="1" height="7" fill="#d2403a"/>
<rect x="576" y="772" width="1" height="10" fill="#d2403a"/>
<rect x="582" y="759" width="1" height="23" fill="#d2403a"/>
<rect x="588" y="749" width="1" height="33" fill="#d2403a"/>
<rect x="594" y="735" width="1" height="47" fill="#d2403a"/>
<rect x="600" y="745" width="1" height="37" fill="#d2403a"/>
<rect x="606" y="745" width="1" height="37" fill="#d2403a"/>
<rect x="612" y="754" width="1" height="28" fill="#d2403a"/>
<rect x="618" y="772" width="1" height="10" fill="#d2403a"/>
<rect x="624" y="781" width="1" height="11" fill="#5fa65a"/>
<rect x="630" y="781" width="1" height="17" fill="#5fa65a"/>
<rect x="636" y="781" width="1" height="19" fill="#5fa65a"/>
<rect x="642" y="781" width="1" height="11" fill="#5fa65a"/>
<rect x="648" y="781" width="1" height="9" fill="#5fa65a"/>
<rect x="654" y="781" width="1" height="8" fill="#5fa65a"/>
<rect x="660" y="781" width="1" height="7" fill="#5fa65a"/>
<rect x="666" y="781" width="1" height="10" fill="#5fa65a"/>
<rect x="672" y="781" width="1" height="14" fill="#5fa65a"/>
<rect x="678" y="781" width="1" height="6" fill="#5fa65a"/>
<rect x="684" y="773" width="1" height="9" fill="#d2403a"/>
<rect x="690" y="764" width="1" height="18" fill="#d2403a"/>
<rect x="696" y="758" width="1" height="24" fill="#d2403a"/>
<rect x="702" y="751" width="1" height="31" fill="#d2403a"/>
<rect x="708" y="752" width="1" height="30" fill="#d2403a"/>
<rect x="714" y="767" width="1" height="15" fill="#d2403a"/>
<rect x="720" y="781" width="1" height="1" fill="#5fa65a"/>
<rect x="726" y="781" width="1" height="9" fill="#5fa65a"/>
<rect x="732" y="781" width="1" height="17" fill="#5fa65a"/>
<rect x="738" y="781" width="1" height="22" fill="#5fa65a"/>
<rect x="744" y="781" width="1" height="31" fill="#5fa65a"/>
<rect x="750" y="781" width="1" height="31" fill="#5fa65a"/>
<rect x="756" y="781" width="1" height="24" fill="#5fa65a"/>
<rect x="762" y="781" width="1" height="17" fill="#5fa65a"/>
<rect x="768" y="781" width="1" height="1" fill="#5fa65a"/>
<rect x="774" y="771" width="1" height="11" fill="#d2403a"/>
<rect x="780" y="768" width="1" height="14" fill="#d2403a"/>
<rect x="786" y="768" width="1" height="14" fill="#d2403a"/>
<rect x="792" y="779" width="1" height="3" fill="#d2403a"/>
<rect x="798" y="781" width="1" height="12" fill="#5fa65a"/>
<rect x="804" y="781" width="1" height="19" fill="#5fa65a"/>
<rect x="810" y="781" width="1" height="20" fill="#5fa65a"/>
</g>
<path d="M90.3 815.5 L96.4 817.4 L100.5 817.6 L108.4 814.1 L114.4 812.2 L120.5 809.2 L126.4 806.7 L132.5 806.7 L138.5 808.4 L144.4 811.0 L150.5 814.1 L156.4 819.1 L162.4 824.5 L168.5 828.7 L174.4 830.6 L180.5 830.6 L186.5 828.3 L192.4 825.4 L198.5 821.2 L204.5 815.5 L210.4 809.7 L216.5 803.1 L222.4 795.7 L228.3 790.7 L228.6 789.1 L234.4 783.3 L240.4 777.0 L246.3 774.5 L252.4 774.5 L258.4 777.0 L264.5 779.7 L270.4 782.1 L276.5 780.0 L282.5 776.7 L288.4 769.3 L294.5 760.2 L300.4 755.2 L306.4 752.8 L312.5 751.6 L318.4 753.6 L324.5 757.7 L330.5 761.8 L336.4 765.6 L342.5 770.1 L348.5 774.2 L354.4 777.5 L360.5 781.3 L366.4 784.1 L372.3 784.9 L378.4 786.3 L384.4 785.8 L390.3 785.8 L396.4 785.4 L402.4 784.9 L408.5 784.9 L414.4 785.8 L420.5 787.1 L426.5 788.6 L432.4 788.7 L438.5 788.2 L444.4 787.4 L450.4 787.4 L456.5 789.1 L462.4 790.4 L468.5 791.5 L474.5 792.7 L480.4 793.7 L486.5 795.3 L492.5 798.1 L498.4 801.4 L504.5 803.4 L510.4 802.6 L516.3 802.6 L522.4 801.4 L528.4 799.0 L534.3 794.0 L540.4 789.1 L546.4 785.4 L552.5 782.5 L558.4 780.8 L564.5 778.8 L570.5 778.3 L576.4 776.7 L582.5 774.2 L588.4 770.1 L594.4 764.3 L600.5 759.4 L606.4 755.2 L612.5 752.4 L618.5 751.4 L624.4 752.3 L630.5 754.4 L636.5 756.1 L642.4 757.4 L648.5 758.5 L654.4 759.7 L660.3 760.7 L666.4 761.8 L672.4 763.5 L678.3 763.5 L684.4 762.3 L690.4 760.5 L696.5 757.7 L702.4 753.6 L708.5 750.3 L714.5 748.3 L720.4 748.6 L726.5 750.6 L732.4 752.4 L738.4 754.7 L744.5 758.5 L750.4 762.7 L756.5 765.6 L762.5 767.6 L768.4 767.1 L774.5 766.0 L780.5 764.3 L786.4 762.7 L792.5 762.2 L798.4 763.2 L804.6 765.6 L810.0 768.4" fill="none" stroke="#1414a0" stroke-width="1.05" shape-rendering="crispEdges" stroke-linejoin="round" stroke-linecap="square"/>
<path d="M90.3 825.4 L96.4 826.5 L100.5 817.9 L105.5 808.9 L113.7 799.8 L120.5 796.5 L126.9 799.0 L132.5 805.9 L138.5 813.0 L144.4 822.9 L150.5 829.5 L156.4 838.2 L162.4 844.3 L168.5 844.3 L174.4 837.7 L180.5 832.8 L186.5 819.6 L192.4 811.3 L198.5 805.6 L204.5 798.1 L210.4 790.7 L216.5 780.8 L222.4 766.0 L228.3 762.3 L228.6 763.0 L234.4 755.2 L240.4 753.3 L246.3 761.0 L252.4 774.2 L258.4 786.6 L264.5 790.2 L270.4 790.2 L276.5 777.5 L282.5 761.8 L288.4 737.9 L294.5 723.9 L300.4 734.6 L306.4 742.0 L312.5 748.6 L318.4 761.8 L324.5 773.4 L330.5 778.3 L336.4 778.3 L342.5 784.9 L348.5 793.5 L354.4 792.0 L360.5 796.0 L366.4 794.0 L372.3 791.2 L378.4 788.2 L384.4 781.1 L390.3 789.4 L396.4 784.9 L402.4 783.8 L408.5 784.6 L414.4 788.2 L420.5 791.5 L426.5 796.5 L432.4 789.9 L438.5 787.4 L444.4 783.6 L450.4 788.2 L456.5 796.5 L462.4 795.3 L468.5 794.5 L474.5 797.3 L480.4 797.6 L486.5 801.4 L492.5 811.8 L498.4 814.3 L504.5 809.2 L510.4 800.1 L516.3 799.3 L522.4 799.3 L528.4 788.2 L534.3 773.4 L540.4 768.4 L546.4 768.4 L552.5 770.1 L558.4 772.9 L564.5 772.1 L570.5 775.0 L576.4 772.1 L582.5 762.7 L588.4 754.4 L594.4 741.7 L600.5 741.2 L606.4 737.4 L612.5 738.2 L618.5 745.3 L624.4 756.9 L630.5 761.8 L636.5 765.6 L642.4 763.0 L648.5 763.0 L654.4 763.0 L660.3 763.0 L666.4 766.0 L672.4 769.3 L678.3 766.3 L684.4 759.4 L690.4 751.9 L696.5 745.3 L702.4 738.7 L708.5 736.3 L714.5 741.2 L720.4 749.5 L726.5 755.2 L732.4 761.0 L738.4 766.0 L744.5 773.4 L750.4 777.0 L756.5 776.4 L762.5 775.5 L768.4 767.1 L774.5 760.2 L780.5 757.4 L786.4 756.4 L792.5 761.0 L798.4 769.3 L804.6 774.2 L810.0 776.5" fill="none" stroke="#000" stroke-width="1.05" shape-rendering="crispEdges" stroke-linejoin="round" stroke-linecap="square"/>
<g shape-rendering="crispEdges" stroke="#000" stroke-width="1"><path d="M778 468.5 H785 M780.5 466 V470"/><path d="M496 624.5 H503 M498.5 623 V626"/></g>
<text x="785.7" y="465" font-family="Liberation Sans, sans-serif" font-size="12" font-weight="bold" letter-spacing="0.15" fill="#d24545">100.3900</text>
<text x="503" y="636" font-family="Liberation Sans, sans-serif" font-size="12" font-weight="bold" letter-spacing="0.25" fill="#5a9c58">96.2109</text>
<g transform="translate(25,672)"><circle r="3.5" fill="#fff" stroke="#111" stroke-width="1.2"/><circle r="2" fill="#f00000"/><g stroke="#f00000" stroke-width="1.1"><path d="M0 -7.5 V-5.3 M0 5.3 V7.5 M-7.5 0 H-5.3 M5.3 0 H7.5 M-5.4 -5.4 L-3.9 -3.9 M5.4 5.4 L3.9 3.9 M-5.4 5.4 L-3.9 3.9 M5.4 -5.4 L3.9 -3.9"/></g></g>
</svg>
<div class="hdr" style="left:88px;top:23px;color:#000">美元指数<span style="color:#ff7a1a">【日线】</span></div>
<svg class="abs" style="left:183px;top:24px" width="12" height="12" viewBox="0 0 12 12"><circle cx="6" cy="6.4" r="4.1" fill="none" stroke="#ff7a1a" stroke-width="0.9"/><path d="M2 6.4 H10 M6 2.4 V10.4" stroke="#ff7a1a" stroke-width="0.9"/></svg>
<svg class="abs" style="left:201px;top:20px" width="14" height="15" viewBox="0 0 14 15"><rect x="1.5" y="1.5" width="11" height="12" fill="#b8b8c0"/><rect x="0.75" y="0.75" width="10.6" height="11.6" fill="#fff" stroke="#1a1a98" stroke-width="1.5"/><path d="M1.6 6.5 L4.2 3.4 L6 5.2 L8 3.8 L10.6 4.2" fill="none" stroke="#e81818" stroke-width="1.1"/><path d="M1.6 9.6 L4.4 6.4 L6.4 8.6 L8.4 6.2 L10.6 6.6" fill="none" stroke="#2030d8" stroke-width="1.1"/></svg>
<div class="hdr" style="left:216.5px;top:22px;color:#111;letter-spacing:0.275px">MA1(50,0,200,0) MA50:99.0125</div>
<div class="hdr" style="left:404px;top:22px;color:#1a1a9c;letter-spacing:0.145px">MA0:99.6377</div>
<div class="hdr" style="left:486.5px;top:22px;color:#fa0cfa;letter-spacing:0.215px">MA200:99.6689</div>
<div class="hdr" style="left:583px;top:22px;color:#ff7a1a;letter-spacing:0.236px">MA0:99.6377</div>
<div class="hdr" style="left:88.5px;top:668px;color:#111;letter-spacing:0.071px">MACD(13,8,9) DIFF:0.0211</div>
<div class="hdr" style="left:245px;top:668px;color:#1a1a9c;letter-spacing:0.03px">DEA:0.0729</div>
<div class="hdr" style="left:318.5px;top:668px;color:#fa0cfa;letter-spacing:0.175px">MACD:-0.1035</div>
<div class="abs" style="left:16px;top:920px;width:70px;height:20px;border:1px solid #cad5e1;background:#fff"></div>
<div class="abs" style="left:30px;top:924px;font-size:13px;line-height:16px;font-weight:bold;color:#ff7a1a;white-space:nowrap">日线<span style="font-size:13.5px;margin-left:2.5px;position:relative;top:-1px">▲</span></div>
<div class="abs" style="left:163px;top:921px;width:1px;height:4px;background:#c8d2de"></div>
<div class="dl" style="left:165px">2025/07</div>
<div class="abs" style="left:301.5px;top:921px;width:1px;height:4px;background:#c8d2de"></div>
<div class="dl" style="left:303.5px">2025/08</div>
<div class="abs" style="left:426px;top:921px;width:1px;height:4px;background:#c8d2de"></div>
<div class="dl" style="left:428px">2025/09</div>
<div class="abs" style="left:559px;top:921px;width:1px;height:4px;background:#c8d2de"></div>
<div class="dl" style="left:561px">2025/10</div>
<div class="abs" style="left:697px;top:921px;width:1px;height:4px;background:#c8d2de"></div>
<div class="dl" style="left:699px">2025/11</div>
<div class="abs" style="left:196px;top:921px;width:110px;height:17px;background:#fff;border:1px solid #e4e8ee"></div>
<div class="abs" style="left:198.5px;top:922px;font-size:12px;line-height:15px;color:#ff7a1a;white-space:nowrap"><span style="font-size:12.6px;letter-spacing:0.18px">2025/07/09</span><span style="margin-left:4.5px;letter-spacing:-0.3px">星期三</span></div>
<div class="abs" style="left:16px;top:940px;width:893px;height:1px;background:#c8d2de"></div>
<div class="abs" style="left:0px;top:955px;width:909px;height:1px;background:#ccd4de"></div>
<div class="abs" style="left:0px;top:956px;width:909px;height:1px;background:#e2e7ee"></div>
<div class="abs" style="left:580px;top:955px;width:329px;height:2px;background:#ccd4de"></div>
<div class="tab" style="left:16px;width:40px;background:#ff6600;color:#fff;">指标</div>
<div class="tab" style="left:55px;width:41px;">模板</div>
<div class="tab" style="left:95px;width:59px;color:#ff7a1a;"><span style="display:inline-block;font-family:'Liberation Mono',monospace;font-size:11px;letter-spacing:-0.6px;position:relative;top:0.5px">VIP</span>指标</div>
<div class="tab m" style="left:153px;width:29px;"><span>MA</span></div>
<div class="tab m" style="left:181px;width:41px;"><span>MACD</span></div>
<div class="tab m" style="left:221px;width:41px;"><span>BOLL</span></div>
<div class="tab m" style="left:261px;width:35px;"><span>VOL</span></div>
<div class="tab m" style="left:295px;width:41px;"><span>BIAS</span></div>
<div class="tab m" style="left:335px;width:35px;"><span>CCI</span></div>
<div class="tab m" style="left:369px;width:36px;"><span>KDJ</span></div>
<div class="tab m" style="left:404px;width:40px;"><span>LW&amp;</span></div>
<div class="tab m" style="left:443px;width:35px;"><span>RSI</span></div>
<div class="tab m" style="left:477px;width:29px;"><span>CR</span></div>
<div class="tab m" style="left:505px;width:36px;"><span>PSY</span></div>
<div class="tab" style="left:540px;width:41px;">设置</div>
<div class="abs" style="left:738px;top:958px;width:171px;height:7px;background:#b4b4b8"></div>
<svg class="abs" style="left:815px;top:957px" width="26" height="8" viewBox="815 957 26 8"><path d="M817 964.6 L826.5 959 H829.5 L839 964.6 Z" fill="#58585e"/></svg>
<div class="abs" style="left:0;top:965px;width:909px;height:1px;background:#c8d0dc"></div>
<div class="abs" style="left:42px;top:966px;width:1px;height:17px;background:#c8d0dc"></div>
<div class="abs" style="left:7.5px;top:968px;font-size:11.5px;line-height:16px;color:#222">资讯</div>
<div class="abs" style="left:0;top:984px;width:909px;height:1px;background:#e6e6ec"></div>
<div class="abs" style="left:781px;top:931px;font-size:30.5px;line-height:34px;letter-spacing:1.9px;color:#dbe6f6;-webkit-text-stroke:0.5px #dbe6f6;text-shadow:1px 1px 1px #a0908a;white-space:nowrap">FX678</div>
</body></html>
